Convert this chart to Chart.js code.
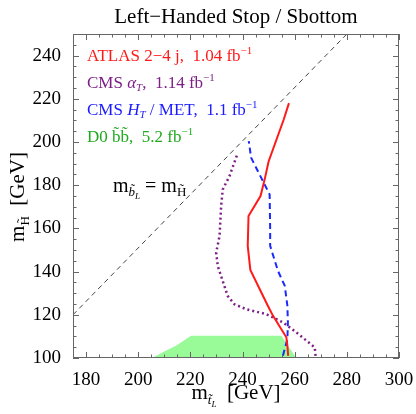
<!DOCTYPE html>
<html>
<head>
<meta charset="utf-8">
<script src="https://cdn.jsdelivr.net/npm/chart.js@4.4.1/dist/chart.umd.min.js"></script>
<style>
  html, body { margin: 0; padding: 0; background: #fff; }
  #wrap { width: 416px; height: 414px; }
</style>
</head>
<body>
<div id="wrap"><canvas id="c" width="416" height="414"></canvas></div>
<script>
// data (GeV)
const atlasX = [257.5, 257.2, 256.8, 251.7, 249.7, 243.0, 242.0, 242.3, 246.9, 248.5, 250.0, 255.8, 257.8];
const atlasY = [101.0, 105.7, 109.6, 119.5, 124.2, 140.8, 151.9, 165.7, 175.0, 182.7, 191.0, 210.4, 218.0];

const alphaX = [268.0, 267.7, 260.6, 255.5, 249.1, 241.4, 236.9, 234.3, 230.5, 229.9, 231.2, 231.8, 232.4, 235.0, 238.2];
const alphaY = [101.0, 104.9, 111.9, 116.5, 120.3, 122.6, 124.9, 128.8, 142.6, 148.8, 156.5, 170.3, 178.0, 184.2, 195.0];

const htX = [255.5, 257.2, 257.4, 257.2, 256.2, 253.6, 250.6, 250.6, 250.4, 243.3, 242.4];
const htY = [101.1, 108.8, 116.5, 124.2, 133.4, 140.3, 151.9, 159.6, 175.7, 192.7, 200.4];

const d0X = [205.3, 210.0, 214.5, 220.3, 254.9, 260.6];
const d0Y = [100.0, 103.0, 105.7, 110.3, 110.3, 100.0];

const diagX = [175, 280];
const diagY = [120, 250];

const xTicks = [180, 200, 220, 240, 260, 280, 300];
const yTicks = [100, 120, 140, 160, 180, 200, 220, 240];

const serif = "'Liberation Serif', serif";
Chart.defaults.font.family = serif;

function pts(xs, ys) {
    return xs.map((x, i) => ({ x: x, y: ys[i] }));
}

// 画一段带上下标的文字
function richWidth(ctx, parts) {
    let w = 0;
    parts.forEach(p => {
        ctx.font = (p.it ? 'italic ' : '') + p.s + 'px ' + serif;
        w += ctx.measureText(p.t).width;
    });
    return w;
}
function drawRich(ctx, x, y, parts, color, align) {
    ctx.save();
    ctx.fillStyle = color;
    ctx.textBaseline = 'alphabetic';
    ctx.textAlign = 'left';
    let w = richWidth(ctx, parts);
    let cx = align === 'center' ? x - w / 2 : x;
    parts.forEach(p => {
        ctx.font = (p.it ? 'italic ' : '') + p.s + 'px ' + serif;
        ctx.fillText(p.t, cx, y + (p.dy || 0));
        cx += ctx.measureText(p.t).width;
    });
    ctx.restore();
}

const framePlugin = {
    id: 'frame',
    afterDatasetsDraw(chart) {
        const ctx = chart.ctx;
        const a = chart.chartArea;
        const xs = chart.scales.x, ys = chart.scales.y;
        ctx.save();
        ctx.strokeStyle = '#666';
        ctx.lineWidth = 1;
        ctx.strokeRect(a.left + 0.5, a.top + 0.5, a.right - a.left - 1, a.bottom - a.top - 1);
        ctx.beginPath();
        for (let v = 175; v <= 300; v += 5) {
            let px = Math.round(xs.getPixelForValue(v)) + 0.5;
            let len = v % 20 === 0 ? 6 : 3.5;
            ctx.moveTo(px, a.bottom); ctx.lineTo(px, a.bottom - len);
            ctx.moveTo(px, a.top); ctx.lineTo(px, a.top + len);
        }
        for (let v = 100; v <= 250; v += 5) {
            let py = Math.round(ys.getPixelForValue(v)) + 0.5;
            let len = v % 20 === 0 ? 6 : 3.5;
            ctx.moveTo(a.left, py); ctx.lineTo(a.left + len, py);
            ctx.moveTo(a.right, py); ctx.lineTo(a.right - len, py);
        }
        ctx.stroke();
        ctx.restore();
    },
    afterDraw(chart) {
        const ctx = chart.ctx;
        // 标题
        drawRich(ctx, 236, 23, [{ t: 'Left\u2212Handed Stop / Sbottom', s: 21 }], '#000', 'center');
        // 图例文字
        drawRich(ctx, 87, 61, [{ t: 'ATLAS 2\u22124 j,  1.04 fb', s: 17 }, { t: '\u22121', s: 11, dy: -7 }], '#ff1a1a');
        drawRich(ctx, 87, 88, [{ t: 'CMS ', s: 17 }, { t: '\u03b1', s: 17, it: true }, { t: 'T', s: 11, dy: 3, it: true },
            { t: ',  1.14 fb', s: 17 }, { t: '\u22121', s: 11, dy: -7 }], '#7d1f86');
        drawRich(ctx, 87, 115, [{ t: 'CMS ', s: 17 }, { t: 'H', s: 17, it: true }, { t: 'T', s: 11, dy: 3, it: true },
            { t: ' / MET,  1.1 fb', s: 17 }, { t: '\u22121', s: 11, dy: -7 }], '#1a1aff');
        drawRich(ctx, 87, 142, [{ t: 'D0 b\u0303b\u0303,  5.2 fb', s: 17 }, { t: '\u22121', s: 11, dy: -7 }], '#1faa1f');
        // 对角线标注
        drawRich(ctx, 113, 192, [{ t: 'm', s: 20 }, { t: 'b\u0303', s: 13, dy: 4, it: true }, { t: 'L', s: 9, dy: 7, it: true },
            { t: ' = m', s: 20 }, { t: 'H\u0303', s: 13, dy: 4 }], '#000');
        // x轴标题
        drawRich(ctx, 236, 399, [{ t: 'm', s: 21 }, { t: 't\u0303', s: 13, dy: 5, it: true }, { t: 'L', s: 9, dy: 8, it: true },
            { t: '  [GeV]', s: 21 }], '#000', 'center');
        // y轴标题
        ctx.save();
        ctx.translate(24, 197);
        ctx.rotate(-Math.PI / 2);
        drawRich(ctx, 0, 0, [{ t: 'm', s: 21 }, { t: 'H\u0303', s: 13, dy: 5 }, { t: '  [GeV]', s: 21 }], '#000', 'center');
        ctx.restore();
    }
};

new Chart(document.getElementById('c'), {
    type: 'scatter',
    data: {
        datasets: [
            { data: pts(atlasX, atlasY), showLine: true, borderColor: '#ff1a1a', borderWidth: 2, pointRadius: 0, order: 1 },
            { data: pts(htX, htY), showLine: true, borderColor: '#1a2aff', borderWidth: 2, borderDash: [6, 4], pointRadius: 0, order: 2 },
            { data: pts(alphaX, alphaY), showLine: true, borderColor: '#7d1f86', borderWidth: 2.5, borderDash: [2, 3], pointRadius: 0, order: 3 },
            { data: pts(diagX, diagY), showLine: true, borderColor: '#444', borderWidth: 1, borderDash: [5, 4], pointRadius: 0, order: 4 },
            { data: pts(d0X, d0Y), showLine: true, borderColor: 'rgba(0,0,0,0)', borderWidth: 0, backgroundColor: '#98fb98',
              fill: 'start', pointRadius: 0, order: 5 }
        ]
    },
    options: {
        responsive: false,
        animation: false,
        events: [],
        layout: { padding: { top: 34, right: 17, left: 0, bottom: 0 } },
        plugins: { legend: { display: false }, tooltip: { enabled: false } },
        scales: {
            x: {
                type: 'linear', min: 175, max: 300,
                grid: { display: false },
                border: { display: false },
                afterBuildTicks: s => { s.ticks = xTicks.map(v => ({ value: v })); },
                afterFit: s => { s.height = 56; s.paddingLeft = 0; s.paddingRight = 0; },
                ticks: { autoSkip: false, maxRotation: 0, padding: 3, color: '#000', font: { family: serif, size: 19 } }
            },
            y: {
                type: 'linear', min: 100, max: 250,
                grid: { display: false },
                border: { display: false },
                afterBuildTicks: s => { s.ticks = yTicks.map(v => ({ value: v })); },
                afterFit: s => { s.width = 73; s.paddingTop = 0; s.paddingBottom = 0; },
                ticks: { autoSkip: false, padding: 4, color: '#000', font: { family: serif, size: 19 } }
            }
        }
    },
    plugins: [framePlugin]
});
</script>
</body>
</html>
